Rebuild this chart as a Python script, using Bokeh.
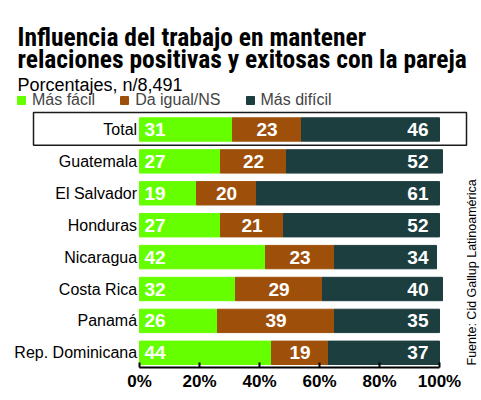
from bokeh.plotting import figure
from bokeh.models import (Range1d, FixedTicker, Label, ColumnDataSource,
                          BoxAnnotation, Legend, LegendItem, LinearAxis)
from bokeh.core.properties import value
from bokeh.embed import file_html
from bokeh.resources import INLINE
import math

categories = ["Total", "Guatemala", "El Salvador", "Honduras", "Nicaragua",
              "Costa Rica", "Panamá", "Rep. Dominicana"]
mas_facil = [31, 27, 19, 27, 42, 32, 26, 44]
da_igual = [23, 22, 20, 21, 23, 29, 39, 19]
mas_dificil = [46, 52, 61, 52, 34, 40, 35, 37]
x_ticks = [0, 20, 40, 60, 80, 100]
x_tick_labels = ["0%", "20%", "40%", "60%", "80%", "100%"]
series_names = ["Más fácil", "Da igual/NS", "Más difícil"]
colors = ["#66FF00", "#9E500A", "#1D3E3F"]

title_lines = ["Influencia del trabajo en mantener",
               "relaciones positivas y exitosas con la pareja"]
subtitle = "Porcentajes, n/8,491"
source_text = "Fuente: Cid Gallup Latinoamérica"

# geometry of the canvas (pixels)
W, H = 481, 400
AXIS_PX = 367                 # where the x axis line sits
BOTTOM = H - AXIS_PX
X0_PX, X100_PX = 139, 439     # where 0% and 100% fall
ROW_PX = 31.9                 # distance between rows
LAST_ROW_PX = 352.3           # centre of last row from the top

px_per_unit = (X100_PX - X0_PX) / 100
x_start = -X0_PX / px_per_unit
x_end = 100 + (W - X100_PX) / px_per_unit
y_start = -(AXIS_PX - LAST_ROW_PX) / ROW_PX
y_end = LAST_ROW_PX / ROW_PX

n = len(categories)
ys = [n - 1 - i for i in range(n)]
right1 = mas_facil
right2 = [a + b for a, b in zip(mas_facil, da_igual)]
right3 = [a + b for a, b in zip(right2, mas_dificil)]

src = ColumnDataSource(dict(
    y=ys, cat=categories,
    l1=[0] * n, r1=right1, l2=mas_facil, r2=right2, l3=right2, r3=right3,
    t1=[str(v) for v in mas_facil], t2=[str(v) for v in da_igual],
    t3=[str(v) for v in mas_dificil],
    c2=[(a + b) / 2 for a, b in zip(mas_facil, right2)],
    end=[100] * n, lab_x=[-0.8] * n,
))

p = figure(width=W, height=H, output_backend="svg", toolbar_location=None,
           x_range=Range1d(x_start, x_end), y_range=Range1d(y_start, y_end),
           min_border_left=0, min_border_right=0, min_border_top=0,
           min_border_bottom=BOTTOM, x_axis_location=None, y_axis_location=None)
p.outline_line_color = None
p.grid.visible = False
p.background_fill_color = "white"
p.border_fill_color = "white"

bh = 0.733
r1 = p.hbar(y="y", left="l1", right="r1", height=bh, color=colors[0], source=src)
r2 = p.hbar(y="y", left="l2", right="r2", height=bh, color=colors[1], source=src)
r3 = p.hbar(y="y", left="l3", right="r3", height=bh, color=colors[2], source=src)

lab_kw = dict(text_color="white", text_font=value("Liberation Sans"), text_font_style="bold",
              text_font_size="19px", text_baseline="middle", source=src)
p.text(x="l1", y="y", text="t1", text_align="left", x_offset=5, **lab_kw)
p.text(x="c2", y="y", text="t2", text_align="center", **lab_kw)
p.text(x="end", y="y", text="t3", text_align="right", x_offset=-11, **lab_kw)

# category names
p.text(x="lab_x", y="y", text="cat", text_align="right", text_baseline="middle",
       text_font=value("Liberation Sans"), text_font_size="16px", text_color="black",
       source=src)

# x axis
xax = LinearAxis(ticker=FixedTicker(ticks=x_ticks), bounds=(0, 100),
                 major_label_overrides={t: s for t, s in zip(x_ticks, x_tick_labels)})
xax.axis_line_color = "black"
xax.axis_line_width = 2
xax.major_tick_in = 5
xax.major_tick_out = 0
xax.major_tick_line_width = 2
xax.minor_tick_line_color = None
xax.major_label_standoff = 4
xax.major_label_text_font = "Liberation Sans"
xax.major_label_text_font_style = "bold"
xax.major_label_text_font_size = "17px"
xax.major_label_text_color = "black"
p.add_layout(xax, "below")

# box around Total row
p.add_layout(BoxAnnotation(left=-35.33, right=109, bottom=ys[0] - 0.495, top=ys[0] + 0.535,
                           fill_color=None, fill_alpha=0, line_color="#1a1a1a",
                           line_alpha=1, line_width=1.5))

# titles
TITLE_FONT = "Roboto Condensed, Liberation Sans"
for i, t in enumerate(title_lines):
    p.add_layout(Label(x=17, y=36.7 + 21.6 * i, x_units="canvas", y_units="canvas", text=t,
                       text_font=TITLE_FONT, text_font_style="bold", text_font_size="25.5px",
                       text_baseline="alphabetic", text_color="black"))
p.add_layout(Label(x=17, y=84, x_units="canvas", y_units="canvas", text=subtitle,
                   text_font="Liberation Sans", text_font_size="18px",
                   text_baseline="alphabetic", text_color="black"))
p.add_layout(Label(x=471, y=365, x_units="canvas", y_units="canvas", text=source_text,
                   angle=math.pi / 2, text_font="Liberation Sans", text_font_size="12.5px",
                   text_baseline="middle", text_align="left", text_color="black"))

legend = Legend(items=[LegendItem(label=s, renderers=[r]) for s, r in zip(series_names, [r1, r2, r3])],
                orientation="horizontal", location=(16, AXIS_PX - 109.3),
                glyph_width=10, glyph_height=10, label_standoff=6, spacing=24,
                label_text_font="Liberation Sans", label_text_font_size="16px",
                padding=0, margin=0, border_line_color=None, background_fill_alpha=0)
p.add_layout(legend, "center")

open("out.html", "w").write(file_html(p, INLINE))
